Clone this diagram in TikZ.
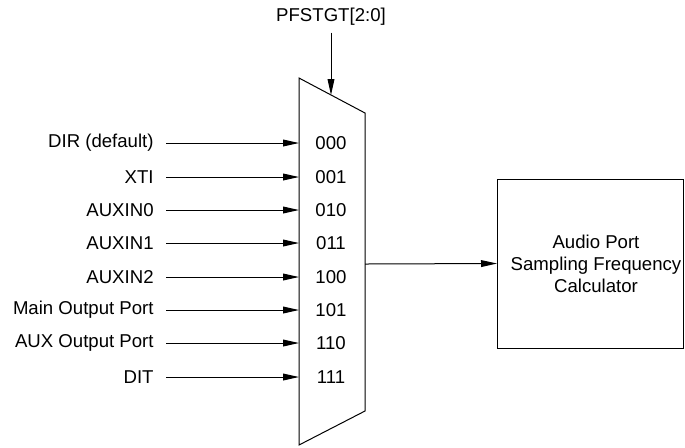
\documentclass[tikz,border=0pt]{standalone}
\usepackage{fontspec}
\setmainfont{Liberation Sans}
\usetikzlibrary{arrows.meta}
\begin{document}
\begin{tikzpicture}[x=0.5pt,y=-0.5pt,
    every node/.style={font=\fontsize{9.3}{11}\selectfont},
    sig/.style={line width=0.5pt,-{Triangle[length=8pt,width=3.4pt]}},
    src/.style={anchor=east,inner xsep=6pt}]
        \useasboundingbox (0,0) rectangle (685,447);

        % multiplexer
        \draw[line width=0.5pt] (299,78) -- (365,113) -- (365,411) -- (299,445) -- cycle;
        \coordinate (mtop) at (331,95);
        \coordinate (mout) at (365,264);

        \node (sel) at (331,17) {PFSTGT[2:0]};
        \draw[sig] (sel.south) -- (mtop);

        \node[src] (dir) at (166,143) {DIR (default)};
        \node[src] (xti) at (166,177) {XTI\ };
        \node[src] (aux0) at (166,210) {AUXIN0};
        \node[src] (aux1) at (166,243) {AUXIN1};
        \node[src] (aux2) at (166,277) {AUXIN2};
        \node[src] (mop) at (166,310) {Main Output Port};
        \node[src] (aop) at (166,343) {AUX Output Port};
        \node[src] (dit) at (166,377) {DIT};

        \node (c0) at (331,143) {000};
        \node (c1) at (331,177) {001};
        \node (c2) at (331,210) {010};
        \node (c3) at (331,243) {011};
        \node (c4) at (331,277) {100};
        \node (c5) at (331,310) {101};
        \node (c6) at (331,343) {110};
        \node (c7) at (331,377) {111};

        \draw[sig] (dir.east) -- (299,143);
        \draw[sig] (xti.east) -- (299,177);
        \draw[sig] (aux0.east) -- (299,210);
        \draw[sig] (aux1.east) -- (299,243);
        \draw[sig] (aux2.east) -- (299,277);
        \draw[sig] (mop.east) -- (299,310);
        \draw[sig] (aop.east) -- (299,343);
        \draw[sig] (dit.east) -- (299,377);

        % calculator block
        \node[draw, line width=0.5pt, minimum width=93pt, minimum height=84.5pt,
              inner sep=0pt] (calc) at (590.5,263.5) {};
        \node[align=center] (calctext) at (596,264)
              {Audio Port\\Sampling Frequency\\Calculator};
        \draw[sig] (mout) -- (calc.west);

    \end{tikzpicture}
\end{document}
